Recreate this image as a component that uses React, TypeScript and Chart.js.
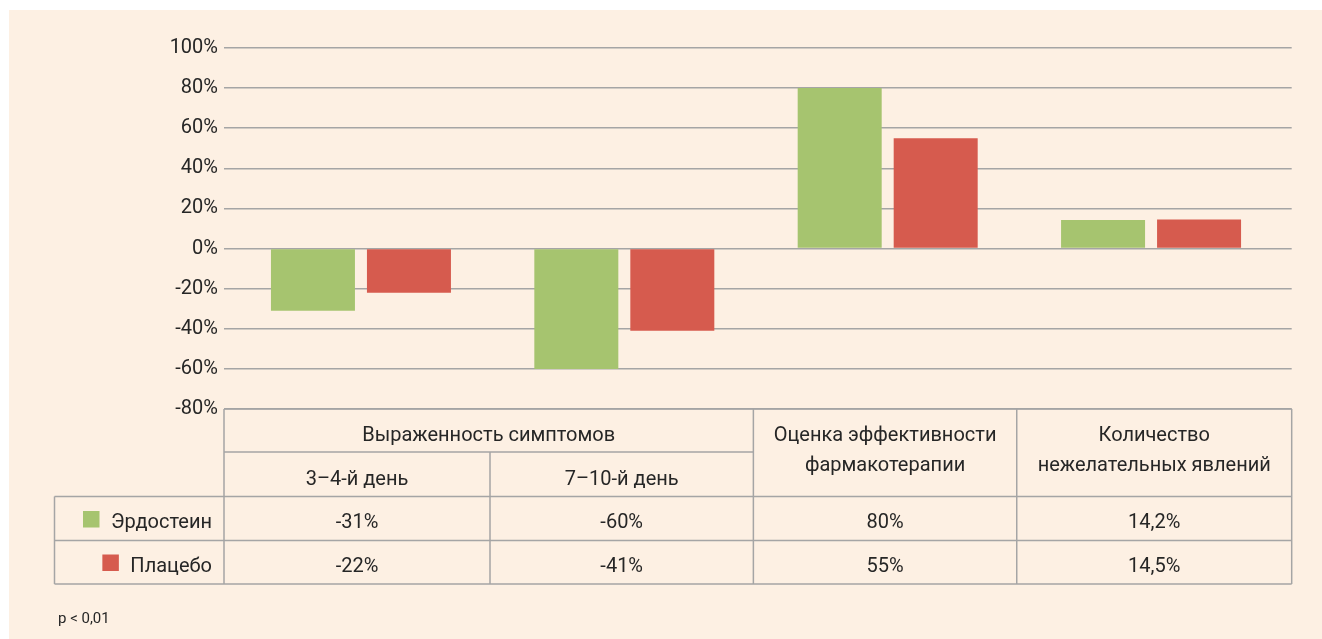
import React, { useEffect, useRef } from "react";
import { Chart, registerables } from "chart.js";

Chart.register(...registerables);

// ---- data ----
const groupHeader = "Выраженность симптомов";
const groupSpan = [0, 2]; // categories covered by the group header
const categoryLines: string[][] = [
  ["3–4-й день"],
  ["7–10-й день"],
  ["Оценка эффективности", "фармакотерапии"],
  ["Количество", "нежелательных явлений"],
];
const seriesNames = ["Эрдостеин", "Плацебо"];
const erdosteineValues = [-31, -60, 80, 14.2];
const placeboValues = [-22, -41, 55, 14.5];
const yMin = -80;
const yMax = 100;
const yStep = 20;
const footnote = "p < 0,01";

// ---- styles ----
const COLORS = {
  green: "#A6C46F",
  red: "#D65B4E",
  grid: "#A5A5A5",
  text: "#262626",
  bg: "#FDF0E3",
};
const FONT = "Roboto, 'Liberation Sans', sans-serif";

const fmt = (v: number) => String(v).replace(".", ",") + "%";

const tablePlugin = {
  id: "dataTable",
  afterDraw(chart: any) {
    const { ctx, chartArea } = chart;
    const xs = chart.scales.x;
    const L = chartArea.left;
    const R = chartArea.right;
    const B = chartArea.bottom;
    const n = categoryLines.length;
    // column edges: chart edges plus boundaries between category groups
    const edges = [L];
    for (let i = 0; i < n - 1; i++) edges.push(xs.getPixelForValue(i + 0.49));
    edges.push(R);
    const mid = (i: number) => (edges[i] + edges[i + 1]) / 2;
    const rowY = [0, 43, 87.5, 131.5, 175].map((d) => B + d);
    const legendLeft = 45.5;

    ctx.save();
    ctx.strokeStyle = COLORS.grid;
    ctx.lineWidth = 1.5;
    const seg = (x1: number, y1: number, x2: number, y2: number) => {
      ctx.beginPath();
      ctx.moveTo(x1, y1);
      ctx.lineTo(x2, y2);
      ctx.stroke();
    };
    seg(L, rowY[0], R, rowY[0]);
    seg(edges[groupSpan[0]], rowY[1], edges[groupSpan[1]], rowY[1]);
    for (const k of [2, 3, 4]) seg(legendLeft, rowY[k], R, rowY[k]);
    seg(legendLeft, rowY[2], legendLeft, rowY[4]);
    for (let i = 0; i <= n; i++) {
      const inner = i > groupSpan[0] && i < groupSpan[1];
      seg(edges[i], inner ? rowY[1] : rowY[0], edges[i], rowY[4]);
    }

    ctx.fillStyle = COLORS.text;
    ctx.font = `20px ${FONT}`;
    ctx.textAlign = "center";
    ctx.textBaseline = "alphabetic";
    ctx.fillText(groupHeader, (edges[groupSpan[0]] + edges[groupSpan[1]]) / 2, B + 32);
    categoryLines.forEach((lines, i) => {
      const cx = mid(i);
      const inGroup = i >= groupSpan[0] && i < groupSpan[1];
      if (inGroup) {
        ctx.fillText(lines[0], cx, B + 76);
      } else {
        lines.forEach((t, j) => ctx.fillText(t, cx, B + 32 + j * 29.5));
      }
    });

    const baselines = [B + 119, B + 162.5];
    chart.data.datasets.forEach((ds: any, s: number) => {
      const base = baselines[s];
      ctx.fillStyle = COLORS.text;
      ctx.textAlign = "center";
      ds.data.forEach((p: any, i: number) => {
        ctx.fillText(fmt(p.y), mid(i), base);
      });
      ctx.textAlign = "right";
      const tx = L - 12;
      ctx.fillText(ds.label, tx, base);
      const w = ctx.measureText(ds.label).width;
      ctx.fillStyle = ds.backgroundColor;
      ctx.fillRect(tx - w - 11.5 - 16.5, base - 17, 16.5, 16.5);
    });

    ctx.fillStyle = COLORS.text;
    ctx.textAlign = "left";
    ctx.font = `15px ${FONT}`;
    ctx.fillText(footnote, 49, 613);
    ctx.restore();
  },
};

export default function App() {
  const canvasRef = useRef<HTMLCanvasElement | null>(null);

  useEffect(() => {
    const canvas = canvasRef.current;
    if (!canvas) return;
    const chart = new Chart(canvas, {
      type: "bar",
      data: {
        datasets: [
          {
            label: seriesNames[0],
            data: erdosteineValues.map((y, i) => ({ x: i, y })),
            backgroundColor: COLORS.green,
            categoryPercentage: 0.729,
            barPercentage: 0.875,
          },
          {
            label: seriesNames[1],
            data: placeboValues.map((y, i) => ({ x: i, y })),
            backgroundColor: COLORS.red,
            categoryPercentage: 0.729,
            barPercentage: 0.875,
          },
        ],
      },
      options: {
        responsive: false,
        animation: false,
        layout: { padding: { top: 38, right: 30.3, bottom: 230, left: 0 } },
        plugins: {
          legend: { display: false },
          tooltip: { enabled: false },
        },
        scales: {
          x: {
            type: "linear",
            display: false,
            min: -0.52,
            max: 3.534,
            offset: false,
            afterBuildTicks: (s: any) => {
              s.ticks = categoryLines.map((_, i) => ({ value: i }));
            },
          },
          y: {
            min: yMin,
            max: yMax,
            ticks: {
              stepSize: yStep,
              callback: (v: any) => `${v}%`,
              color: COLORS.text,
              font: { family: FONT, size: 20 },
              padding: 6,
            },
            grid: { color: COLORS.grid, lineWidth: 1.5, drawTicks: false },
            border: { display: false },
            afterFit: (s: any) => {
              s.width = 215;
            },
          },
        },
      } as any,
      plugins: [tablePlugin],
    });
    return () => chart.destroy();
  }, []);

  return (
    <div
      style={{
        position: "absolute",
        left: 9,
        top: 10,
        width: 1313,
        height: 629,
        background: COLORS.bg,
      }}
    >
      <canvas ref={canvasRef} width={1313} height={629} style={{ display: "block" }} />
    </div>
  );
}
